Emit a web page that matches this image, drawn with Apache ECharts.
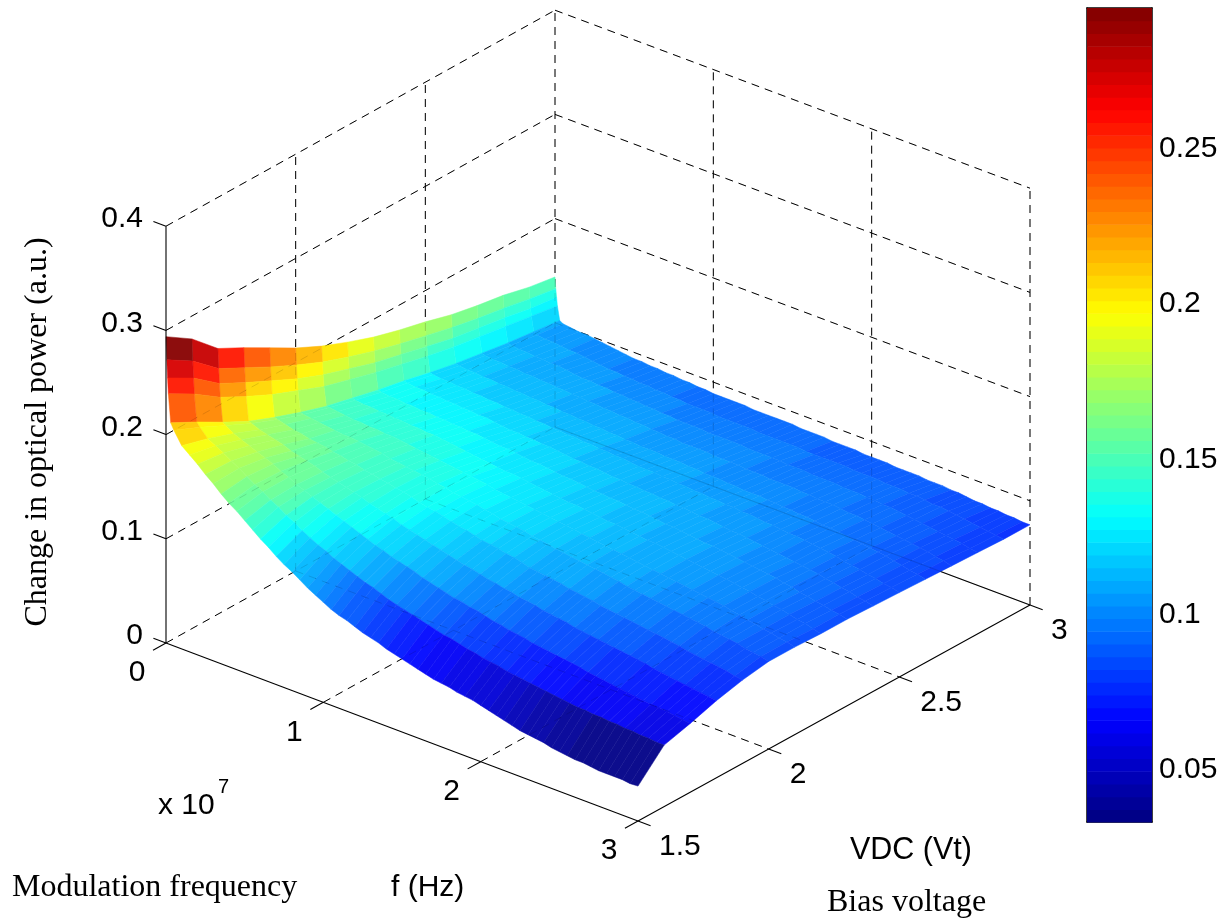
<!DOCTYPE html>
<html><head><meta charset="utf-8">
<style>html,body{margin:0;padding:0;background:#fff}#c{width:1224px;height:921px}</style>
<script src="https://cdn.jsdelivr.net/npm/echarts@6/dist/echarts.min.js"></script>
</head><body><div id="c"></div>
<script>
// Modulation frequency in units of 1e7 Hz (rows).
const frequency = [0,.005,.01,.015,.03,.05,.1,.15,.2,.25,.3,.35,.4,.45,.5,.55,.6,.65,.7,.75,.8,.85,.9,.95,1,1.05,1.1,1.15,1.2,1.25,1.3,1.35,1.4,1.45,1.5,1.55,1.6,1.65,1.7,1.75,1.8,1.85,1.9,1.95,2,2.05,2.1,2.15,2.2,2.25,2.3,2.35,2.4,2.45,2.5,2.55,2.6,2.65,2.7,2.75,2.8,2.85,2.9,2.95,3];
// Bias voltage (columns).
const voltage = [1.5,1.6,1.7,1.8,1.9,2,2.1,2.2,2.3,2.4,2.5,2.6,2.7,2.8,2.9,3];
// Change in optical power, one row per frequency, one column per voltage.
const power = [
[.294,.278,.255,.242,.228,.214,.202,.192,.183,.176,.170,.163,.158,.154,.148,.144],
[.272,.257,.236,.223,.210,.198,.187,.178,.170,.163,.157,.151,.146,.142,.137,.133],
[.255,.241,.222,.209,.197,.185,.175,.167,.159,.153,.147,.141,.137,.133,.128,.125],
[.240,.226,.209,.196,.184,.174,.164,.157,.150,.144,.138,.133,.129,.125,.121,.117],
[.213,.200,.186,.173,.163,.154,.146,.140,.134,.129,.123,.118,.114,.110,.107,.104],
[.207,.196,.184,.172,.162,.153,.146,.139,.133,.128,.122,.117,.113,.109,.105,.102],
[.195,.188,.179,.169,.160,.152,.145,.138,.132,.127,.121,.116,.112,.108,.104,.101],
[.189,.184,.176,.167,.158,.151,.144,.138,.132,.127,.121,.116,.112,.108,.104,.100],
[.183,.180,.173,.165,.157,.150,.143,.137,.131,.126,.120,.115,.111,.107,.103,.100],
[.176,.175,.170,.163,.155,.149,.143,.137,.131,.126,.120,.115,.111,.107,.102,.099],
[.170,.171,.167,.160,.154,.148,.142,.136,.130,.125,.119,.114,.110,.106,.102,.098],
[.163,.166,.164,.158,.153,.148,.142,.136,.130,.125,.119,.114,.110,.106,.101,.097],
[.157,.161,.160,.156,.151,.147,.141,.135,.129,.124,.118,.113,.109,.105,.100,.096],
[.152,.157,.157,.154,.150,.146,.141,.135,.129,.124,.118,.113,.109,.104,.099,.095],
[.146,.152,.153,.151,.148,.145,.140,.134,.128,.123,.117,.112,.108,.103,.098,.094],
[.140,.148,.150,.149,.147,.144,.139,.134,.128,.123,.117,.112,.108,.103,.098,.094],
[.134,.143,.147,.147,.145,.142,.138,.133,.127,.122,.116,.111,.107,.102,.097,.093],
[.129,.139,.144,.145,.144,.141,.137,.132,.127,.121,.116,.111,.107,.102,.097,.093],
[.123,.134,.141,.143,.142,.140,.136,.131,.126,.120,.115,.110,.106,.101,.096,.092],
[.118,.130,.138,.141,.141,.139,.135,.130,.125,.120,.115,.110,.106,.101,.096,.092],
[.114,.126,.135,.138,.139,.138,.134,.129,.124,.119,.114,.109,.105,.100,.095,.091],
[.109,.123,.132,.136,.138,.137,.133,.128,.124,.119,.114,.109,.105,.100,.095,.091],
[.104,.119,.129,.134,.136,.135,.132,.127,.123,.118,.113,.108,.104,.099,.094,.090],
[.100,.116,.126,.132,.134,.134,.131,.126,.122,.118,.113,.108,.104,.099,.094,.090],
[.096,.113,.123,.129,.132,.132,.130,.125,.121,.117,.112,.107,.103,.098,.093,.089],
[.092,.110,.121,.127,.131,.131,.129,.125,.121,.116,.112,.107,.103,.098,.093,.089],
[.089,.107,.118,.125,.129,.130,.127,.124,.120,.115,.111,.106,.102,.097,.093,.089],
[.087,.105,.116,.123,.127,.129,.126,.123,.119,.115,.111,.106,.102,.097,.093,.089],
[.084,.102,.114,.121,.125,.127,.125,.122,.118,.114,.110,.105,.101,.097,.092,.089],
[.081,.099,.112,.119,.124,.126,.124,.121,.118,.114,.110,.105,.101,.097,.092,.088],
[.079,.097,.109,.117,.122,.124,.123,.120,.117,.113,.109,.105,.100,.096,.092,.088],
[.077,.095,.107,.115,.120,.123,.122,.119,.116,.112,.108,.104,.100,.096,.092,.088],
[.074,.093,.105,.113,.119,.122,.121,.118,.115,.112,.108,.104,.100,.096,.092,.088],
[.072,.091,.103,.112,.118,.121,.120,.118,.115,.111,.108,.104,.100,.096,.091,.088],
[.070,.089,.101,.110,.116,.119,.119,.117,.114,.111,.107,.103,.099,.096,.091,.088],
[.068,.087,.100,.108,.115,.118,.118,.116,.114,.110,.107,.103,.099,.095,.091,.087],
[.066,.085,.098,.107,.113,.117,.117,.115,.113,.110,.106,.102,.099,.095,.091,.087],
[.064,.084,.097,.105,.111,.115,.116,.114,.112,.109,.106,.102,.099,.095,.091,.087],
[.062,.082,.095,.104,.110,.114,.115,.114,.112,.109,.105,.102,.098,.095,.091,.087],
[.061,.080,.093,.102,.109,.113,.114,.113,.111,.108,.105,.101,.098,.095,.090,.086],
[.060,.079,.092,.101,.108,.112,.113,.112,.110,.108,.104,.101,.098,.094,.090,.086],
[.058,.077,.090,.100,.107,.111,.112,.111,.109,.107,.104,.100,.097,.094,.090,.086],
[.057,.076,.089,.098,.105,.110,.111,.110,.109,.106,.103,.100,.097,.094,.090,.086],
[.056,.075,.088,.097,.104,.109,.110,.110,.108,.106,.103,.100,.097,.093,.090,.085],
[.054,.073,.086,.096,.103,.108,.109,.109,.107,.105,.102,.099,.097,.093,.090,.085],
[.052,.072,.085,.095,.102,.107,.108,.108,.106,.104,.102,.099,.096,.093,.089,.085],
[.050,.071,.084,.093,.100,.105,.107,.107,.105,.103,.101,.098,.096,.093,.089,.085],
[.048,.070,.083,.092,.099,.104,.106,.106,.105,.103,.100,.098,.095,.092,.089,.084],
[.046,.069,.082,.091,.098,.103,.105,.105,.104,.102,.100,.097,.095,.092,.089,.084],
[.044,.068,.081,.090,.097,.102,.104,.104,.103,.101,.099,.097,.095,.092,.088,.084],
[.043,.067,.080,.089,.096,.101,.103,.103,.102,.100,.098,.096,.094,.091,.088,.084],
[.042,.066,.078,.088,.095,.100,.102,.102,.101,.099,.098,.095,.093,.091,.088,.083],
[.041,.065,.077,.087,.094,.099,.101,.101,.100,.098,.097,.095,.093,.090,.087,.083],
[.039,.064,.076,.086,.093,.098,.100,.100,.099,.097,.096,.094,.092,.090,.087,.083],
[.038,.064,.075,.085,.092,.097,.099,.099,.098,.096,.095,.093,.091,.089,.086,.082],
[.037,.063,.074,.084,.091,.096,.098,.098,.097,.095,.094,.092,.090,.088,.085,.082],
[.036,.063,.073,.082,.090,.095,.096,.096,.095,.094,.093,.091,.089,.087,.085,.081],
[.036,.062,.072,.081,.088,.093,.095,.095,.094,.093,.091,.090,.088,.086,.084,.080],
[.035,.062,.071,.080,.087,.092,.093,.093,.092,.091,.090,.089,.087,.085,.083,.080],
[.034,.061,.070,.079,.086,.091,.092,.092,.091,.090,.089,.088,.086,.084,.082,.079],
[.034,.061,.070,.078,.085,.090,.090,.090,.089,.088,.087,.086,.085,.083,.081,.079],
[.034,.060,.069,.077,.084,.088,.089,.088,.088,.087,.086,.085,.084,.082,.080,.078],
[.034,.060,.068,.076,.083,.087,.087,.087,.086,.085,.084,.083,.082,.081,.079,.078],
[.033,.059,.067,.075,.081,.086,.086,.085,.085,.084,.083,.082,.081,.079,.078,.077],
[.0335,.059,.066,.074,.080,.084,.084,.083,.083,.082,.081,.080,.079,.078,.077,.077]
];
const fTicks = [0,1,2,3];
const vTicks = [1.5,2,2.5,3];
const zTicks = [0,.1,.2,.3,.4];
const zTickLabels = ['0','0.1','0.2','0.3','0.4'];
const fTickLabels = ['0','1','2','3'];
const vTickLabels = ['1.5','2','2.5','3'];
const colorbarTicks = [.05,.1,.15,.2,.25];
const cMin = .0333, cMax = .2952, cLevels = 64;

const SANS = '"Liberation Sans", Arial, sans-serif', SERIF = '"Liberation Serif", "Times New Roman", serif';

// View of the 3D box onto the page.
function project(f, V, z) {
  const u = f / 3, v = (V - 1.5) / 1.5;
  return [166 + 472 * u + 389 * v + 3 * u * v, 643 + 178 * u - 216 * v - 1042 * z];
}
function jetRGB(z) {
  const k = Math.min(cLevels - 1, Math.max(0, Math.floor((z - cMin) / (cMax - cMin) * cLevels)));
  const t = (k + .5) / cLevels;
  const c = a => 255 * Math.max(0, Math.min(1, a));
  return [c(Math.min(4 * t - 1.5, 4.5 - 4 * t)), c(Math.min(4 * t - .5, 3.5 - 4 * t)), c(Math.min(4 * t + .5, 2.5 - 4 * t))];
}
function rgb(a, lighten) {
  return 'rgb(' + a.map(x => Math.round(x + (255 - x) * lighten)).join(',') + ')';
}

// Box lines: [f1,V1,z1,f2,V2,z2,solid]
const F0 = fTicks[0], F1 = fTicks[fTicks.length - 1], V0 = vTicks[0], V1 = vTicks[vTicks.length - 1], Z1 = zTicks[zTicks.length - 1];
const boxLines = [];
zTicks.forEach(z => {
  if (z > 0) boxLines.push([F0, V0, z, F0, V1, z, 0], [F0, V1, z, F1, V1, z, 0]);
});
vTicks.forEach(V => {
  if (V > V0) boxLines.push([F0, V, 0, F0, V, Z1, 0]);
  if (V > V0 && V < V1) boxLines.push([F0, V, 0, F1, V, 0, 0]);
});
fTicks.forEach(f => {
  if (f > F0) boxLines.push([f, V1, 0, f, V1, Z1, 0]);
  if (f > F0 && f < F1) boxLines.push([f, V0, 0, f, V1, 0, 0]);
});
boxLines.push([F0, V0, 0, F0, V1, 0, 0], [F0, V1, 0, F1, V1, 0, 1]);
const frontLines = [[F0, V0, 0, F0, V0, Z1, 1], [F0, V0, 0, F1, V0, 0, 1], [F1, V0, 0, F1, V1, 0, 1]];
zTicks.forEach(z => frontLines.push([F0, V0, z, F0 - .08, V0, z, 1]));
fTicks.forEach(f => frontLines.push([f, V0, 0, f, V0 - .05, 0, 1]));
vTicks.forEach(V => frontLines.push([F1, V, 0, F1 + .08, V, 0, 1]));

// Far cells first.
const cells = [];
for (let i = 0; i < frequency.length - 1; i++)
  for (let j = voltage.length - 2; j >= 0; j--) cells.push([i, j]);

function lineItem(params, api, list, opacity) {
  const d = list[params.dataIndex];
  const a = api.coord(project(d[0], d[1], d[2])), b = api.coord(project(d[3], d[4], d[5]));
  return { type: 'line', shape: { x1: a[0], y1: a[1], x2: b[0], y2: b[1] },
    style: { stroke: '#000', opacity: opacity, lineWidth: d[6] ? 1.1 : 1, lineDash: d[6] ? null : [8, 6], fill: null } };
}
function textItem(api, pos, text, dx, dy, align) {
  const p = api.coord(pos);
  return { type: 'text', x: p[0] + dx, y: p[1] + dy,
    style: { text: text, font: '30px ' + SANS, fill: '#000', textAlign: align, textVerticalAlign: 'middle' } };
}
const tickTexts = [];
zTicks.forEach((z, i) => tickTexts.push([project(F0, V0, z), zTickLabels[i], -23, -7, 'right']));
fTicks.forEach((f, i) => tickTexts.push([project(f, V0, 0), fTickLabels[i], -29, 30, 'center']));
vTicks.forEach((V, i) => tickTexts.push([project(F1, V, 0), vTickLabels[i], 21, 26, 'left']));

const levels = [];
for (let k = 0; k < cLevels; k++) levels.push(k);

const chart = echarts.init(document.getElementById('c'), null, { renderer: 'canvas', width: 1224, height: 921 });
const flat = n => Array.from({ length: n }, (_, i) => [i, i]);
const customBase = { type: 'custom', xAxisIndex: 0, yAxisIndex: 0, clip: false, silent: true, animation: false, progressive: 0 };
chart.setOption({
  backgroundColor: '#fff',
  animation: false,
  grid: [
    { left: 0, right: 0, top: 0, bottom: 0 },
    { left: 1087, top: 8, width: 65, height: 814 }
  ],
  xAxis: [
    { type: 'value', gridIndex: 0, min: 0, max: 1224, show: false },
    { type: 'value', gridIndex: 1, min: 0, max: 1, position: 'bottom', axisLine: { onZero: false, lineStyle: { color: '#000', width: 1.5 } }, axisTick: { show: false }, axisLabel: { show: false }, splitLine: { show: false } },
    { type: 'value', gridIndex: 1, min: 0, max: 1, position: 'top', axisLine: { onZero: false, lineStyle: { color: '#000', width: 1.5 } }, axisTick: { show: false }, axisLabel: { show: false }, splitLine: { show: false } }
  ],
  yAxis: [
    { type: 'value', gridIndex: 0, min: 0, max: 921, inverse: true, show: false },
    { type: 'value', gridIndex: 1, min: cMin, max: cMax, position: 'right',
      axisLine: { onZero: false, lineStyle: { color: '#000', width: 1.5 } },
      axisTick: { inside: true, length: 7, customValues: colorbarTicks, lineStyle: { color: '#000' } },
      axisLabel: { customValues: colorbarTicks, margin: 7, color: '#000', fontSize: 30, fontFamily: SANS, formatter: v => String(v) },
      splitLine: { show: false } },
    { type: 'value', gridIndex: 1, min: cMin, max: cMax, position: 'left',
      axisLine: { onZero: false, lineStyle: { color: '#000', width: 1.5 } },
      axisTick: { inside: true, length: 7, customValues: colorbarTicks, lineStyle: { color: '#000' } },
      axisLabel: { show: false }, splitLine: { show: false } }
  ],
  series: [
    Object.assign({}, customBase, { name: 'box', data: flat(boxLines.length),
      renderItem: (p, api) => lineItem(p, api, boxLines, 1) }),
    Object.assign({}, customBase, { name: 'surface', data: cells,
      renderItem: (params, api) => {
        const [i, j] = cells[params.dataIndex];
        const pts = [[i, j], [i + 1, j], [i + 1, j + 1], [i, j + 1]].map(q =>
          api.coord(project(frequency[q[0]], voltage[q[1]], power[q[0]][q[1]])));
        const col = rgb(jetRGB(power[i][j]), .05);
        return { type: 'polygon', shape: { points: pts }, style: { fill: col, stroke: col, lineWidth: .5 } };
      } }),
    Object.assign({}, customBase, { name: 'box through surface', data: flat(boxLines.length),
      renderItem: (p, api) => lineItem(p, api, boxLines, .12) }),
    Object.assign({}, customBase, { name: 'axes', data: flat(frontLines.length),
      renderItem: (p, api) => lineItem(p, api, frontLines, 1) }),
    Object.assign({}, customBase, { name: 'tick labels', data: flat(tickTexts.length),
      renderItem: (p, api) => { const t = tickTexts[p.dataIndex]; return textItem(api, t[0], t[1], t[2], t[3], t[4]); } }),
    { type: 'custom', name: 'colorbar', xAxisIndex: 1, yAxisIndex: 1, silent: true, animation: false, progressive: 0, data: levels.map(k => [k, k]),
      renderItem: (params, api) => {
        const k = levels[params.dataIndex], s = (cMax - cMin) / cLevels;
        const lo = cMin + k * s, a = api.coord([0, lo]), b = api.coord([1, lo + s]);
        return { type: 'rect', shape: { x: a[0], y: b[1], width: b[0] - a[0], height: a[1] - b[1] + .6 }, style: { fill: rgb(jetRGB(lo + s / 2), 0) } };
      } }
  ],
  graphic: { elements: [
    { type: 'text', x: 158, y: 806, style: { text: 'x 10', font: '30px ' + SANS, fill: '#000', textVerticalAlign: 'middle' } },
    { type: 'text', x: 218, y: 787, style: { text: '7', font: '20px ' + SANS, fill: '#000', textVerticalAlign: 'middle' } },
    { type: 'text', x: 391, y: 888, style: { text: 'f (Hz)', font: '30px ' + SANS, fill: '#000', textVerticalAlign: 'middle' } },
    { type: 'text', x: 850, y: 851, style: { text: 'VDC (Vt)', font: '30.5px ' + SANS, fill: '#000', textVerticalAlign: 'middle' } },
    { type: 'text', x: 12, y: 888, style: { text: 'Modulation frequency', font: '32px ' + SERIF, fill: '#000', textVerticalAlign: 'middle' } },
    { type: 'text', x: 827, y: 903, style: { text: 'Bias voltage', font: '32px ' + SERIF, fill: '#000', textVerticalAlign: 'middle' } },
    { type: 'text', x: 38, y: 432, rotation: Math.PI / 2, style: { text: 'Change in optical power (a.u.)', font: '32px ' + SERIF, fill: '#000', textAlign: 'center', textVerticalAlign: 'middle' } }
  ] }
});
</script></body></html>
